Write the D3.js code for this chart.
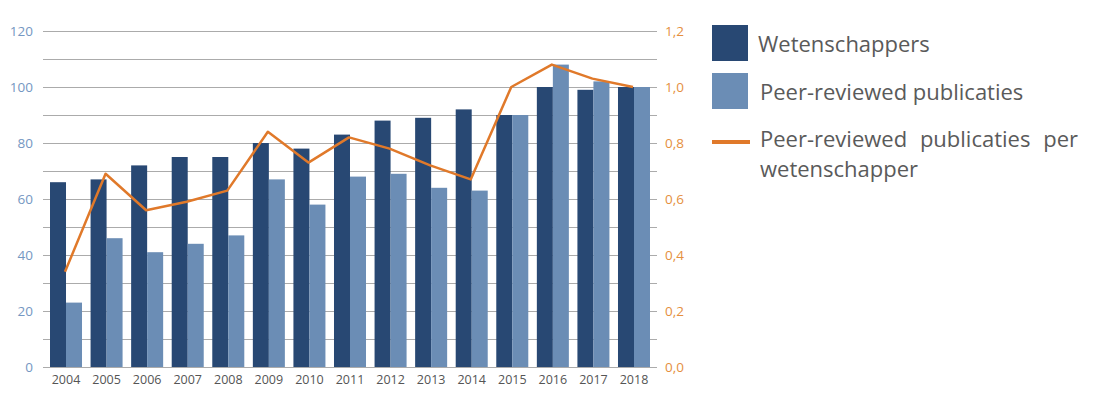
<!DOCTYPE html>
<html>
<head>
<meta charset="utf-8">
<script src="https://cdn.jsdelivr.net/npm/d3@7"></script>
<style>
  body { margin: 0; background: #fff; }
  svg { font-family: "Open Sans", sans-serif; }
</style>
</head>
<body>
<svg id="chart" width="1100" height="404"></svg>
<script>
const years = ["2004", "2005", "2006", "2007", "2008", "2009", "2010", "2011",
  "2012", "2013", "2014", "2015", "2016", "2017", "2018"];
const wetenschappers = [66, 67, 72, 75, 75, 80, 78, 83, 88, 89, 92, 90, 100, 99, 100];
const publicaties = [23, 46, 41, 44, 47, 67, 58, 68, 69, 64, 63, 90, 108, 102, 100];
const perWetenschapper = [0.34, 0.69, 0.56, 0.59, 0.63, 0.84, 0.73, 0.82, 0.78, 0.72, 0.67, 1.0, 1.08, 1.03, 1.0];
const leftTicks = [0, 20, 40, 60, 80, 100, 120];
const rightTicks = [0, 0.2, 0.4, 0.6, 0.8, 1.0, 1.2];
const legendItems = ["Wetenschappers", "Peer-reviewed publicaties", "Peer-reviewed publicaties per wetenschapper"];

const colors = { dark: "#284873", light: "#6b8db5", line: "#e0792a" };

const svg = d3.select("#chart");

const x = d3.scaleBand().domain(years).range([43, 657]).paddingInner(0.211).paddingOuter(0.1725);
const xSub = d3.scaleBand().domain(["w", "p"]).range([0, x.bandwidth()]);
const y = d3.scaleLinear().domain([0, 120]).range([367, 31]);
const y2 = d3.scaleLinear().domain([0, 1.2]).range([367, 31]);

// gridlines every 10
svg.append("g")
  .selectAll("line")
  .data(d3.range(0, 121, 10))
  .join("line")
  .attr("x1", 43)
  .attr("x2", 657)
  .attr("y1", (d) => y(d) + 0.5)
  .attr("y2", (d) => y(d) + 0.5)
  .attr("stroke", "#ababab")
  .attr("stroke-width", 1.2);

// bars
const groups = svg.append("g")
  .selectAll("g")
  .data(years)
  .join("g")
  .attr("transform", (d) => `translate(${x(d)},0)`);

groups.append("rect")
  .attr("x", xSub("w"))
  .attr("width", xSub.bandwidth())
  .attr("y", (d, i) => y(wetenschappers[i]))
  .attr("height", (d, i) => y(0) - y(wetenschappers[i]))
  .attr("fill", colors.dark);

groups.append("rect")
  .attr("x", xSub("p"))
  .attr("width", xSub.bandwidth())
  .attr("y", (d, i) => y(publicaties[i]))
  .attr("height", (d, i) => y(0) - y(publicaties[i]))
  .attr("fill", colors.light);

// line
const line = d3.line()
  .x((d, i) => x(years[i]) + x.bandwidth() / 2 - 1)
  .y((d) => y2(d));

svg.append("path")
  .datum(perWetenschapper)
  .attr("d", line)
  .attr("fill", "none")
  .attr("stroke", colors.line)
  .attr("stroke-width", 2.5)
  .attr("stroke-linejoin", "round");

// left axis
const leftAxis = d3.axisLeft(y).tickValues(leftTicks).tickSize(0).tickPadding(10);
svg.append("g")
  .attr("transform", "translate(43,0)")
  .call(leftAxis)
  .call((g) => g.select(".domain").remove())
  .selectAll("text")
  .attr("fill", "#7597c2")
  .style("font-size", "13.5px")
  .style("font-family", "Open Sans");

// right axis
const rightAxis = d3.axisRight(y2)
  .tickValues(rightTicks)
  .tickSize(0)
  .tickPadding(8)
  .tickFormat((d) => d3.format(".1f")(d).replace(".", ","));
svg.append("g")
  .attr("transform", "translate(657,0)")
  .call(rightAxis)
  .call((g) => g.select(".domain").remove())
  .selectAll("text")
  .attr("fill", "#e58f3e")
  .style("font-size", "13.5px")
  .style("font-family", "Open Sans");

// x axis
const bottomAxis = d3.axisBottom(x).tickSize(0).tickPadding(8);
svg.append("g")
  .attr("transform", "translate(0,367)")
  .call(bottomAxis)
  .call((g) => g.select(".domain").remove())
  .selectAll("text")
  .attr("fill", "#555")
  .style("font-size", "12.5px")
  .style("font-family", "Open Sans");

// legend
const legend = svg.append("g").attr("transform", "translate(712,0)");
legend.append("rect").attr("x", 0).attr("y", 25).attr("width", 36).attr("height", 36).attr("fill", colors.dark);
legend.append("rect").attr("x", 0).attr("y", 73).attr("width", 36).attr("height", 36).attr("fill", colors.light);
legend.append("line").attr("x1", 0).attr("x2", 38).attr("y1", 142).attr("y2", 142)
  .attr("stroke", colors.line).attr("stroke-width", 4);

const legendText = { fill: "#5a5a5a", size: "22px" };
legend.append("text").attr("x", 46).attr("y", 52).text(legendItems[0])
  .attr("fill", legendText.fill).style("font-size", legendText.size);
legend.append("text").attr("x", 48).attr("y", 100).text(legendItems[1])
  .attr("fill", legendText.fill).style("font-size", legendText.size);

// third item wraps over two lines, first line justified
const words = legendItems[2].split(" ");
const l1 = legend.append("text").attr("x", 48).attr("y", 147).text(words.slice(0, 3).join(" "))
  .attr("fill", legendText.fill).style("font-size", legendText.size);
const natural = l1.node().getComputedTextLength();
l1.attr("word-spacing", Math.max(0, (366 - 48 - natural) / 2));
legend.append("text").attr("x", 48).attr("y", 177).text(words.slice(3).join(" "))
  .attr("fill", legendText.fill).style("font-size", legendText.size);
</script>
</body>
</html>
